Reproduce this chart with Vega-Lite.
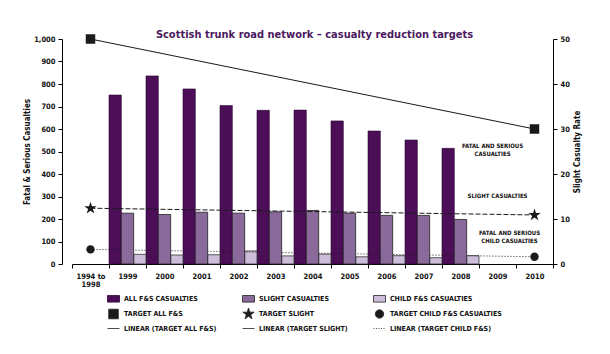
{
  "$schema": "https://vega.github.io/schema/vega-lite/v6.json",
  "width": 491,
  "height": 225,
  "autosize": {"type": "none"},
  "padding": {"left": 62, "top": 39, "right": 57, "bottom": 90},
  "background": "white",
  "title": {
    "text": "Scottish trunk road network – casualty reduction targets",
    "font": "DejaVu Sans Condensed, Liberation Sans Narrow, sans-serif",
    "fontSize": 11,
    "fontWeight": "bold",
    "color": "#4B1A5E",
    "anchor": "middle",
    "offset": -6,
    "dx": 7
  },
  "config": {
    "view": {"stroke": null},
    "axis": {
      "labelFont": "DejaVu Sans Condensed, Liberation Sans Narrow, sans-serif",
      "titleFont": "DejaVu Sans Condensed, Liberation Sans Narrow, sans-serif",
      "labelFontWeight": "bold",
      "titleFontWeight": "bold",
      "labelColor": "#111",
      "titleColor": "#111",
      "domainColor": "#000",
      "tickColor": "#000",
      "grid": false,
      "labelFontSize": 7.5,
      "titleFontSize": 8
    }
  },
  "datasets": {
    "bars": [
      {"cat": "1999", "series": "all", "value": 751},
      {"cat": "2000", "series": "all", "value": 836},
      {"cat": "2001", "series": "all", "value": 778},
      {"cat": "2002", "series": "all", "value": 704},
      {"cat": "2003", "series": "all", "value": 683},
      {"cat": "2004", "series": "all", "value": 684},
      {"cat": "2005", "series": "all", "value": 636},
      {"cat": "2006", "series": "all", "value": 591},
      {"cat": "2007", "series": "all", "value": 551},
      {"cat": "2008", "series": "all", "value": 514},
      {"cat": "1999", "series": "child", "value": 43},
      {"cat": "2000", "series": "child", "value": 40},
      {"cat": "2001", "series": "child", "value": 41},
      {"cat": "2002", "series": "child", "value": 58},
      {"cat": "2003", "series": "child", "value": 36},
      {"cat": "2004", "series": "child", "value": 44},
      {"cat": "2005", "series": "child", "value": 32},
      {"cat": "2006", "series": "child", "value": 37},
      {"cat": "2007", "series": "child", "value": 28},
      {"cat": "2008", "series": "child", "value": 37}
    ],
    "slight": [
      {"cat": "1999", "series": "slight", "value": 11.3},
      {"cat": "2000", "series": "slight", "value": 11.0},
      {"cat": "2001", "series": "slight", "value": 11.5},
      {"cat": "2002", "series": "slight", "value": 11.3},
      {"cat": "2003", "series": "slight", "value": 11.6},
      {"cat": "2004", "series": "slight", "value": 11.9},
      {"cat": "2005", "series": "slight", "value": 11.3},
      {"cat": "2006", "series": "slight", "value": 10.8},
      {"cat": "2007", "series": "slight", "value": 10.8},
      {"cat": "2008", "series": "slight", "value": 9.9}
    ],
    "targets": [
      {"cat": "1994 to 1998", "series": "all", "value": 1000},
      {"cat": "2010", "series": "all", "value": 600},
      {"cat": "1994 to 1998", "series": "child", "value": 65},
      {"cat": "2010", "series": "child", "value": 32}
    ],
    "slightTargets": [
      {"cat": "1994 to 1998", "series": "slight", "value": 12.4},
      {"cat": "2010", "series": "slight", "value": 10.9}
    ],
    "notes": [
      {"cat": "2009", "note": "FATAL AND SERIOUS\nCASUALTIES", "value": 540, "group": "a"},
      {"cat": "2009", "note": "SLIGHT CASUALTIES", "value": 314, "group": "b"},
      {"cat": "2009", "note": "FATAL AND SERIOUS\nCHILD CASUALTIES", "value": 152, "group": "c"}
    ],
    "legend": [
      {"label": "ALL F&S CASUALTIES"}
    ]
  },
  "encoding": {
    "x": {
      "field": "cat",
      "type": "nominal",
      "sort": null,
      "scale": {
        "domain": ["1994 to 1998", "1999", "2000", "2001", "2002", "2003", "2004", "2005", "2006", "2007", "2008", "2009", "2010"],
        "range": [10, 491],
        "paddingInner": 0,
        "paddingOuter": 0
      },
      "axis": {
        "title": null,
        "labelAngle": 0,
        "tickBand": "extent",
        "tickSize": 4,
        "labelPadding": 4,
        "labelLineHeight": 8,
        "labelExpr": "datum.value == '1994 to 1998' ? ['1994 to', '1998'] : datum.value"
      }
    }
  },
  "layer": [
    {
      "encoding": {
        "y": {
          "field": "value",
          "type": "quantitative",
          "scale": {"domain": [0, 1000], "nice": false, "zero": true},
          "axis": {
            "orient": "left",
            "title": "Fatal & Serious Casualties",
            "values": [0, 100, 200, 300, 400, 500, 600, 700, 800, 900, 1000],
            "format": ",d",
            "tickSize": 4,
            "labelPadding": 3,
            "titlePadding": 2
          }
        }
      },
      "layer": [
        {
          "data": {"name": "bars"},
          "transform": [{"filter": "datum.series == 'all'"}],
          "mark": {"type": "bar", "color": "#4B0E57", "stroke": "#2a0530", "strokeWidth": 0.6},
          "encoding": {
            "xOffset": {"field": "series", "type": "nominal", "scale": {"domain": ["all", "slight", "child"], "paddingInner": 0, "paddingOuter": 0}}
          }
        },
        {
          "data": {"name": "bars"},
          "transform": [{"filter": "datum.series == 'child'"}],
          "mark": {"type": "bar", "color": "#CDBDDA", "stroke": "#333", "strokeWidth": 0.8},
          "encoding": {
            "xOffset": {"field": "series", "type": "nominal", "scale": {"domain": ["all", "slight", "child"], "paddingInner": 0, "paddingOuter": 0}}
          }
        },
        {
          "data": {"name": "targets"},
          "transform": [{"filter": "datum.series == 'all'"}],
          "mark": {"type": "line", "color": "#1a1a1a", "strokeWidth": 1},
          "encoding": {}
        },
        {
          "data": {"name": "targets"},
          "transform": [{"filter": "datum.series == 'all'"}],
          "mark": {"type": "point", "shape": "square", "filled": true, "color": "#1a1a1a", "opacity": 1, "size": 90},
          "encoding": {}
        },
        {
          "data": {"name": "targets"},
          "transform": [{"filter": "datum.series == 'child'"}],
          "mark": {"type": "line", "color": "#1a1a1a", "strokeWidth": 1, "strokeDash": [1, 2]},
          "encoding": {}
        },
        {
          "data": {"name": "targets"},
          "transform": [{"filter": "datum.series == 'child'"}],
          "mark": {"type": "point", "shape": "circle", "filled": true, "color": "#1a1a1a", "opacity": 1, "size": 70},
          "encoding": {}
        },
        {
          "data": {"name": "notes"},
          "transform": [{"filter": "datum.group == 'a'"}],
          "mark": {"type": "text", "lineBreak": "\n", "align": "center", "baseline": "top", "dx": -5, "fontSize": 6, "fontWeight": "bold", "lineHeight": 8, "font": "DejaVu Sans Condensed, Liberation Sans Narrow, sans-serif", "color": "#111"},
          "encoding": {"text": {"field": "note"}}
        },
        {
          "data": {"name": "notes"},
          "transform": [{"filter": "datum.group == 'b'"}],
          "mark": {"type": "text", "lineBreak": "\n", "align": "center", "baseline": "top", "dx": 0, "fontSize": 6, "fontWeight": "bold", "lineHeight": 8, "font": "DejaVu Sans Condensed, Liberation Sans Narrow, sans-serif", "color": "#111"},
          "encoding": {"text": {"field": "note"}}
        },
        {
          "data": {"name": "notes"},
          "transform": [{"filter": "datum.group == 'c'"}],
          "mark": {"type": "text", "lineBreak": "\n", "align": "center", "baseline": "top", "dx": 12, "fontSize": 6, "fontWeight": "bold", "lineHeight": 8, "font": "DejaVu Sans Condensed, Liberation Sans Narrow, sans-serif", "color": "#111"},
          "encoding": {"text": {"field": "note"}}
        },
        {
          "data": {"name": "legend"},
          "transform": [{"filter": "false"}],
          "mark": {"type": "point", "filled": true, "opacity": 1},
          "encoding": {
            "color": {
              "field": "label",
              "type": "nominal",
              "scale": {
                "domain": ["ALL F&S CASUALTIES", "TARGET ALL F&S", "LINEAR (TARGET ALL F&S)", "SLIGHT CASUALTIES", "TARGET SLIGHT", "LINEAR (TARGET SLIGHT)", "CHILD F&S CASUALTIES", "TARGET CHILD F&S CASUALTIES", "LINEAR (TARGET CHILD F&S)"],
                "range": ["#4B0E57", "#1a1a1a", "#1a1a1a", "#8A6A9A", "#1a1a1a", "#1a1a1a", "#CDBDDA", "#1a1a1a", "#1a1a1a"]
              },
              "legend": {
                "title": null,
                "orient": "none",
                "legendX": 45,
                "legendY": 253,
                "columns": 3,
                "columnPadding": 23,
                "rowPadding": 1.5,
                "symbolSize": 144,
                "labelOffset": 4,
                "labelFont": "DejaVu Sans Condensed, Liberation Sans Narrow, sans-serif",
                "labelFontSize": 7,
                "labelFontWeight": "bold",
                "labelColor": "#111",
                "symbolOpacity": 1,
                "encode": {
                  "symbols": {
                    "update": {
                      "stroke": {"signal": "datum.label == 'ALL F&S CASUALTIES' ? '#2a0530' : '#222'"},
                      "strokeWidth": {"value": 0.8},
                      "strokeDash": {"signal": "datum.label == 'LINEAR (TARGET CHILD F&S)' ? [1, 1.5] : []"},
                      "opacity": {"value": 1}
                    }
                  }
                }
              }
            },
            "shape": {
              "field": "label",
              "type": "nominal",
              "scale": {
                "domain": ["ALL F&S CASUALTIES", "TARGET ALL F&S", "LINEAR (TARGET ALL F&S)", "SLIGHT CASUALTIES", "TARGET SLIGHT", "LINEAR (TARGET SLIGHT)", "CHILD F&S CASUALTIES", "TARGET CHILD F&S CASUALTIES", "LINEAR (TARGET CHILD F&S)"],
                "range": ["M-1,-0.55H1V0.55H-1Z", "M-0.8,-0.8H0.8V0.8H-0.8Z", "stroke", "M-1,-0.55H1V0.55H-1Z", "M0,-1L0.2245,-0.309L0.951,-0.309L0.363,0.118L0.588,0.809L0,0.382L-0.588,0.809L-0.363,0.118L-0.951,-0.309L-0.2245,-0.309Z", "stroke", "M-1,-0.55H1V0.55H-1Z", "M0.7,0A0.7,0.7 0 1,1 -0.7,0A0.7,0.7 0 1,1 0.7,0Z", "stroke"]
              }
            }
          }
        }
      ]
    },
    {
      "encoding": {
        "y": {
          "field": "value",
          "type": "quantitative",
          "scale": {"domain": [0, 50], "nice": false, "zero": true},
          "axis": {
            "orient": "right",
            "title": "Slight Casualty Rate",
            "titleAngle": 270,
            "values": [0, 10, 20, 30, 40, 50],
            "tickSize": 4,
            "labelPadding": 3,
            "titlePadding": 12
          }
        }
      },
      "layer": [
        {
          "data": {"name": "slight"},
          "mark": {"type": "bar", "color": "#8A6A9A", "stroke": "#222", "strokeWidth": 0.8},
          "encoding": {
            "xOffset": {"field": "series", "type": "nominal", "scale": {"domain": ["all", "slight", "child"], "paddingInner": 0, "paddingOuter": 0}}
          }
        },
        {
          "data": {"name": "slightTargets"},
          "mark": {"type": "line", "color": "#1a1a1a", "strokeWidth": 1, "strokeDash": [5, 2]},
          "encoding": {}
        },
        {
          "data": {"name": "slightTargets"},
          "mark": {"type": "point", "shape": "M0,-1L0.2245,-0.309L0.951,-0.309L0.363,0.118L0.588,0.809L0,0.382L-0.588,0.809L-0.363,0.118L-0.951,-0.309L-0.2245,-0.309Z", "filled": true, "color": "#1a1a1a", "opacity": 1, "size": 170},
          "encoding": {}
        }
      ]
    }
  ],
  "resolve": {"scale": {"y": "independent"}}
}
